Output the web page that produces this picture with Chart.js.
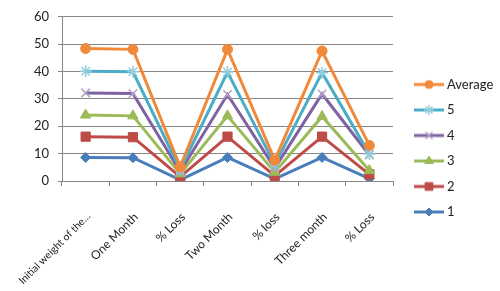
<!DOCTYPE html>
<html><head><meta charset="utf-8">
<script src="https://cdn.jsdelivr.net/npm/chart.js@4.4.1/dist/chart.umd.min.js"></script>
<style>html,body{margin:0;padding:0;background:#fff}#wrap{width:500px;height:291px}</style>
</head><body><div id="wrap"><canvas id="c" width="500" height="291"></canvas></div>
<script>
const categories = ["Initial weight of the…", "One Month", "% Loss", "Two Month", "% loss", "Three month", "% Loss"];
const seriesNames = ["Average", "5", "4", "3", "2", "1"];
const avgValues = [48.4, 48.1, 5.2, 48.1, 7.6, 47.5, 13.0];
const s5Values  = [40.1, 39.9, 4.2, 39.8, 6.0, 39.6, 9.9];
const s4Values  = [32.2, 32.0, 3.4, 31.6, 4.7, 31.8, 9.5];
const s3Values  = [24.1, 23.8, 2.6, 23.8, 3.2, 23.6, 3.8];
const s2Values  = [16.2, 16.0, 1.5, 16.2, 1.9, 16.2, 2.4];
const s1Values  = [8.6, 8.5, 0.4, 8.6, 0.8, 8.6, 0.9];
const yTicks = [0, 10, 20, 30, 40, 50, 60];

const FONT = 'Lato';
const FS = 13;
const XFS = 12;
const styles = [
  {line:'#F0893A', mk:'#F0893A', shape:'circle', r:5, bw:1},
  {line:'#4BACC6', mk:'#93CDDD', shape:'star', r:6, bw:1.5},
  {line:'#7F62A1', mk:'#B3A2C7', shape:'crossRot', r:6, bw:1.5},
  {line:'#9BBB59', mk:'#9BBB59', shape:'triangle', r:6, bw:1},
  {line:'#BE4B48', mk:'#BE4B48', shape:'rect', r:6.5, bw:1},
  {line:'#4A7EBB', mk:'#4A7EBB', shape:'rectRot', r:5, bw:1}
];
const values = [avgValues, s5Values, s4Values, s3Values, s2Values, s1Values];

function makeIcon(st){
  const cv = document.createElement('canvas');
  cv.width = 42; cv.height = 14;
  const g = cv.getContext('2d');
  g.strokeStyle = st.line; g.lineWidth = 3;
  g.beginPath(); g.moveTo(12, 7); g.lineTo(42, 7); g.stroke();
  g.fillStyle = st.mk; g.strokeStyle = st.mk; g.lineWidth = st.bw;
  Chart.helpers.drawPoint(g, {pointStyle: st.shape, radius: st.r - 1, borderWidth: st.bw, rotation: 0}, 27, 7);
  return cv;
}

const mctx = document.createElement('canvas').getContext('2d');
mctx.font = FS + 'px ' + FONT;
const T = mctx.measureText('Average').width;
const legendPad = 12.5, boxW = 35;
const legendWidth = legendPad + boxW + FS/2 + T + 10;
const rightPad = 500 - 393 - legendWidth;

Chart.defaults.font.family = FONT;
Chart.defaults.font.size = FS;
Chart.defaults.color = '#222';

const datasets = seriesNames.map((n, i) => ({
  label: n,
  data: values[i],
  borderColor: styles[i].line,
  backgroundColor: styles[i].mk,
  borderWidth: 3,
  pointStyle: styles[i].shape,
  pointRadius: styles[i].r,
  pointBackgroundColor: styles[i].mk,
  pointBorderColor: styles[i].mk,
  pointBorderWidth: styles[i].bw,
  tension: 0,
  fill: false
}));

new Chart(document.getElementById('c'), {
  type: 'line',
  data: { labels: categories, datasets },
  options: {
    responsive: false,
    animation: false,
    layout: { padding: { top: 11, right: rightPad, bottom: 5.5, left: 0 } },
    plugins: {
      tooltip: { enabled: false },
      legend: {
        position: 'right',
        labels: {
          usePointStyle: true,
          pointStyleWidth: boxW,
          padding: legendPad,
          color: '#222',
          font: { size: FS, family: FONT },
          generateLabels: (chart) => chart.data.datasets.map((ds, i) => ({
            text: ds.label, pointStyle: makeIcon(styles[i]), datasetIndex: i,
            hidden: false, lineWidth: 0, strokeStyle: 'rgba(0,0,0,0)', fillStyle: 'rgba(0,0,0,0)', fontColor: '#222'
          }))
        }
      }
    },
    scales: {
      x: {
        offset: true,
        grid: { offset: true, drawOnChartArea: false, drawTicks: true, tickLength: 5, color: '#868686' },
        border: { color: '#868686', width: 1 },
        ticks: { maxRotation: 45, minRotation: 45, autoSkip: false, padding: 24, labelOffset: 3, color: '#222',
                 font: (c) => ({ size: c.index === 0 ? 10.4 : XFS, family: FONT }) },
        afterFit: (s) => { s.height = 104.5; s.paddingLeft = 0; s.paddingRight = 0; }
      },
      y: {
        min: 0, max: 60,
        afterBuildTicks: (s) => { s.ticks = yTicks.map(v => ({ value: v })); },
        grid: { color: '#868686', drawTicks: true, tickLength: 4 },
        border: { color: '#868686', width: 1 },
        ticks: { padding: 9, color: '#222', font: { size: FS } },
        afterFit: (s) => { s.width = 62; }
      }
    }
  }
});
</script>
</body></html>
